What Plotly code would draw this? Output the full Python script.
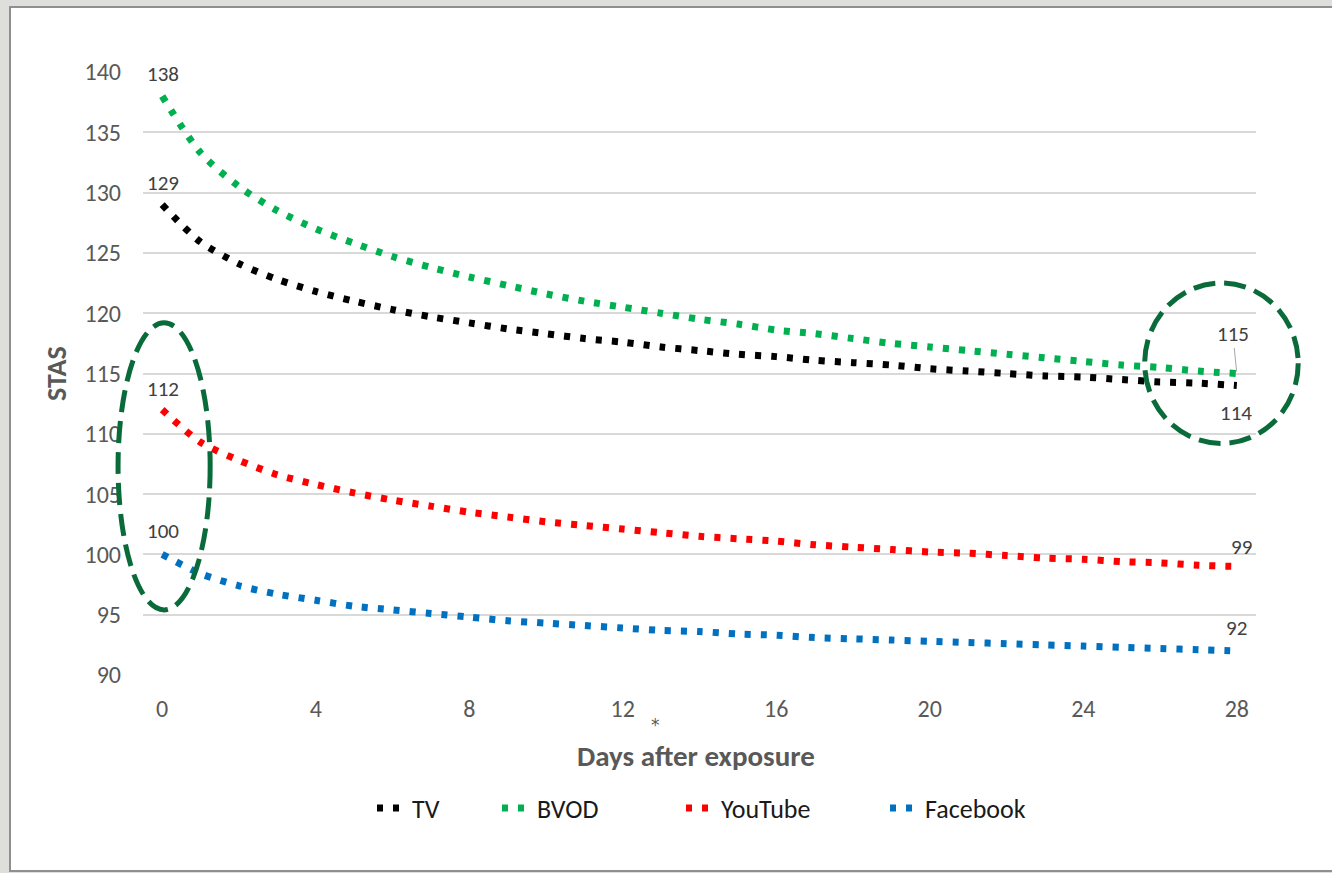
import plotly.graph_objects as go

# Days after exposure (daily readings)
days = list(range(29))

# STAS by channel, one value per day
tv = [129.0, 125.9, 124.1, 122.8, 121.8, 121.0, 120.3, 119.7, 119.2, 118.7,
      118.3, 117.9, 117.6, 117.2, 116.9, 116.6, 116.4, 116.1, 115.9, 115.7,
      115.4, 115.2, 115.0, 114.8, 114.7, 114.5, 114.3, 114.2, 114.0]
bvod = [138.0, 133.3, 130.5, 128.5, 127.0, 125.8, 124.7, 123.8, 123.0, 122.3,
        121.6, 121.0, 120.5, 120.0, 119.5, 119.1, 118.6, 118.3, 117.9, 117.5,
        117.2, 116.9, 116.6, 116.3, 116.0, 115.7, 115.5, 115.2, 115.0]
youtube = [112.0, 109.3, 107.8, 106.6, 105.8, 105.1, 104.5, 104.0, 103.5, 103.1,
           102.7, 102.4, 102.1, 101.8, 101.5, 101.3, 101.1, 100.8, 100.6, 100.4,
           100.2, 100.1, 99.9, 99.7, 99.6, 99.4, 99.3, 99.1, 99.0]
facebook = [100.0, 98.4, 97.4, 96.7, 96.2, 95.7, 95.4, 95.1, 94.8, 94.5,
            94.3, 94.1, 93.9, 93.7, 93.6, 93.4, 93.3, 93.1, 93.0, 92.9,
            92.8, 92.7, 92.6, 92.5, 92.4, 92.3, 92.2, 92.1, 92.0]

series_names = ["TV", "BVOD", "YouTube", "Facebook"]
series_colors = ["#000000", "#00b050", "#ff0000", "#0070c0"]
x_ticks = [0, 4, 8, 12, 16, 20, 24, 28]
y_ticks = [90, 95, 100, 105, 110, 115, 120, 125, 130, 135, 140]

FONT = "Calibri, Carlito, Lato, sans-serif"
W, H = 1332, 873
ML, MR, MT, MB = 143, 76, 72, 198
PW, PH = W - ML - MR, H - MT - MB
X_RANGE = [-0.5, 28.5]
Y_RANGE = [90, 140]


def px_x(px):
    return (px - ML) / PW


def px_y(py):
    return (H - MB - py) / PH


def data_x(d):
    return (d - X_RANGE[0]) / (X_RANGE[1] - X_RANGE[0])


def data_y(v):
    return (v - Y_RANGE[0]) / (Y_RANGE[1] - Y_RANGE[0])


# left edge (px) of each legend entry's label
legend_text_left = [412, 537, 721, 925]
legend_keys = ["legend", "legend2", "legend3", "legend4"]

fig = go.Figure()
for name, vals, col, lg in zip(series_names, [tv, bvod, youtube, facebook],
                               series_colors, legend_keys):
    fig.add_trace(go.Scatter(
        x=days, y=vals, name=name, mode="lines", legend=lg,
        line=dict(color=col, width=7, dash="6px,10px", shape="spline", smoothing=0.8),
        hoverinfo="x+y+name",
    ))

annotations = []
label_color = "#404040"
LABEL_SIZE = 21
# start-of-period labels
for vals, ys in [(bvod, 22), (tv, 22), (youtube, 21), (facebook, 23)]:
    annotations.append(dict(x=days[0], y=vals[0], text=f"{vals[0]:.0f}", showarrow=False,
                            xref="x", yref="y", yshift=ys, xshift=1,
                            font=dict(family=FONT, size=LABEL_SIZE, color=label_color)))
# end-of-period labels
annotations.append(dict(x=days[-1], y=bvod[-1], text=f"{bvod[-1]:.0f}", xref="x", yref="y",
                        showarrow=True, arrowhead=0, arrowwidth=1, arrowcolor="#a6a6a6",
                        ax=-4, ay=-40, standoff=2,
                        font=dict(family=FONT, size=LABEL_SIZE, color=label_color)))
annotations.append(dict(x=days[-1], y=tv[-1], text=f"{tv[-1]:.0f}", showarrow=False,
                        xref="x", yref="y", yshift=-27, xshift=-1,
                        font=dict(family=FONT, size=LABEL_SIZE, color=label_color)))
annotations.append(dict(x=days[-1], y=youtube[-1], text=f"{youtube[-1]:.0f}", showarrow=False,
                        xref="x", yref="y", yshift=19, xshift=5,
                        font=dict(family=FONT, size=LABEL_SIZE, color=label_color)))
annotations.append(dict(x=days[-1], y=facebook[-1], text=f"{facebook[-1]:.0f}", showarrow=False,
                        xref="x", yref="y", yshift=23, xshift=0,
                        font=dict(family=FONT, size=LABEL_SIZE, color=label_color)))

# axis titles and footnote marker
annotations.append(dict(x=px_x(696), y=px_y(756), xref="paper", yref="paper",
                        xanchor="center", yanchor="middle",
                        text="<b>Days after exposure</b>", showarrow=False,
                        font=dict(family=FONT, size=29, color="#595959")))
annotations.append(dict(x=px_x(655), y=px_y(725), xref="paper", yref="paper",
                        xanchor="center", yanchor="middle",
                        text="*", showarrow=False,
                        font=dict(family="DejaVu Sans", size=17, color="#595959")))
annotations.append(dict(x=px_x(57), y=px_y(374), xref="paper", yref="paper",
                        xanchor="center", yanchor="middle",
                        text="<b>STAS</b>", textangle=-90, showarrow=False,
                        font=dict(family=FONT, size=28, color="#595959")))

ring = dict(color="#0a6b3a", width=5, dash="22px,9px")
shapes = [
    # chart frame
    dict(type="rect", xref="paper", yref="paper", layer="below",
         x0=px_x(10), x1=px_x(1340), y0=px_y(871), y1=px_y(7),
         fillcolor="#ffffff", line=dict(color="#8f8f8f", width=2)),
    # highlight around day-0 values
    dict(type="circle", xref="paper", yref="paper", layer="above",
         x0=data_x(-1.15), x1=data_x(1.25), y0=data_y(95.4), y1=data_y(119.2), line=ring),
    # highlight around day-28 values
    dict(type="circle", xref="paper", yref="paper", layer="above",
         x0=data_x(25.6), x1=data_x(29.6), y0=data_y(109.2), y1=data_y(122.5), line=ring),
]

legend_style = dict(orientation="h", xanchor="left", yanchor="middle", y=px_y(808),
                    font=dict(family=FONT, size=26, color="#1a1a1a"),
                    bgcolor="rgba(0,0,0,0)", itemwidth=30)
legends = {lg: dict(legend_style, x=px_x(tx - 40))
           for lg, tx in zip(legend_keys, legend_text_left)}

fig.update_layout(
    width=W, height=H,
    margin=dict(l=ML, r=MR, t=MT, b=MB, pad=0),
    paper_bgcolor="#dededa",
    plot_bgcolor="rgba(0,0,0,0)",
    font=dict(family=FONT, color="#595959"),
    showlegend=True,
    annotations=annotations,
    shapes=shapes,
    xaxis=dict(range=X_RANGE, tickvals=x_ticks, ticktext=[str(t) for t in x_ticks],
               showgrid=False, zeroline=False, showline=False, ticks="",
               tickfont=dict(family=FONT, size=24, color="#595959"),
               ticklabelstandoff=17, fixedrange=True),
    yaxis=dict(range=Y_RANGE, tickvals=y_ticks, showgrid=True, gridcolor="#d9d9d9",
               gridwidth=2, zeroline=False, showline=False, ticks="",
               tickfont=dict(family=FONT, size=24, color="#595959"),
               ticklabelstandoff=21, fixedrange=True),
    **legends,
)

fig.write_html("out.html")
